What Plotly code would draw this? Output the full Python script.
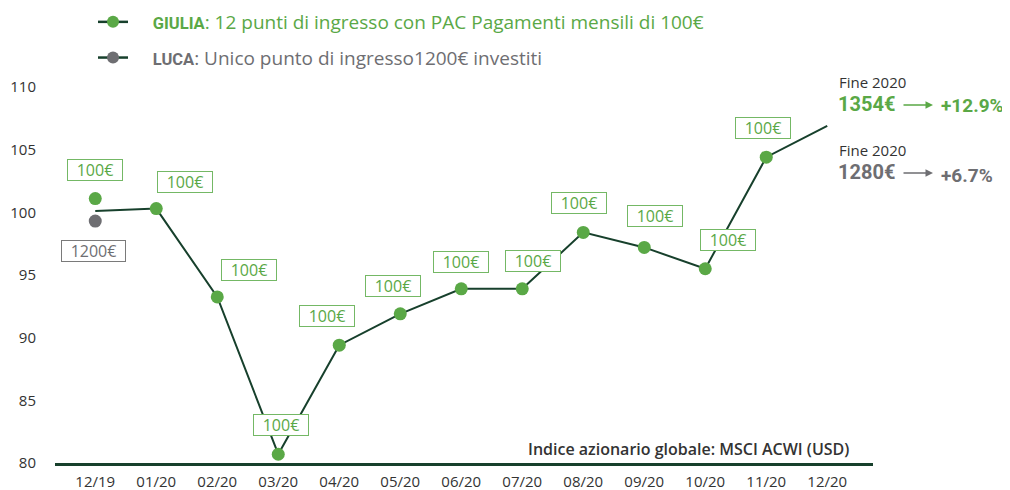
import plotly.graph_objects as go

# ---- data ----
months = ["12/19", "01/20", "02/20", "03/20", "04/20", "05/20", "06/20",
          "07/20", "08/20", "09/20", "10/20", "11/20", "12/20"]
index_values = [100.1, 100.3, 93.25, 80.7, 89.4, 91.9, 93.9, 93.9, 98.4, 97.2, 95.5, 104.4, 106.9]
giulia_months = months[:12]
giulia_marker_values = [101.1, 100.3, 93.25, 80.7, 89.4, 91.9, 93.9, 93.9, 98.4, 97.2, 95.5, 104.4]
giulia_labels = ["100€"] * 12
luca_months = ["12/19"]
luca_marker_values = [99.3]
luca_labels = ["1200€"]
y_ticks = [80, 85, 90, 95, 100, 105, 110]

# label offsets (pixels) - styling only
giulia_label_dx = [0, 29, 32, 3, -12, -7, 0, 11, -4, 11, 23, -3]
giulia_label_dy = [29, 27, 27, 29, 29, 28, 27, 28, 29, 31, 29, 29]
luca_label_dx = [-2]
luca_label_dy = [-30]

GREEN = "#5aa846"
DARK = "#17402c"
GRAY = "#6e6e72"
TXT = "#333333"
NARROW = "Roboto, sans-serif"
BASE = "Open Sans, sans-serif"

OFF = 8  # default page body margin
W, H = 1010 - OFF, 490 - OFF
L, R, T, B = 55 - OFF, 137, 87 - OFF, 27
PW, PH = W - L - R, H - T - B


def px(x):
    return (x - OFF - L) / PW


def py(y):
    return (H - B - (y - OFF)) / PH


fig = go.Figure()

# main index line
fig.add_trace(go.Scatter(x=months, y=index_values, mode="lines",
                         line=dict(color=DARK, width=2), showlegend=False,
                         hoverinfo="skip", cliponaxis=False))
# Giulia markers
fig.add_trace(go.Scatter(x=giulia_months, y=giulia_marker_values, mode="markers",
                         marker=dict(color=GREEN, size=13), showlegend=False,
                         cliponaxis=False))
# Luca marker
fig.add_trace(go.Scatter(x=luca_months, y=luca_marker_values, mode="markers",
                         marker=dict(color=GRAY, size=13), showlegend=False,
                         cliponaxis=False))

# legend entries
SP = "&nbsp;" * 4
fig.add_trace(go.Scatter(x=[None], y=[None], mode="lines+markers",
                         line=dict(color=DARK, width=2.5),
                         marker=dict(color=GREEN, size=12),
                         legendgroup="g",
                         name=f"{SP}<span style='font-family:Roboto;font-size:16.5px;color:{GREEN}'><b>GIULIA</b></span>"
                              f"<span style='color:{GREEN}'>: 12 punti di ingresso con PAC Pagamenti mensili di 100€</span>"))
fig.add_trace(go.Scatter(x=[None], y=[None], mode="lines+markers",
                         line=dict(color=DARK, width=2.5),
                         marker=dict(color=GRAY, size=12),
                         legendgroup="l",
                         name=f"{SP}<span style='font-family:Roboto;font-size:16.5px;color:{GRAY}'><b>LUCA</b></span>"
                              f"<span style='color:{GRAY}'>: Unico punto di ingresso1200€ investiti</span>"))

annotations = []
for m, v, t, dx, dy in zip(giulia_months, giulia_marker_values, giulia_labels,
                           giulia_label_dx, giulia_label_dy):
    annotations.append(dict(x=m, y=v, text=t, showarrow=False, xshift=dx, yshift=dy,
                            font=dict(family=BASE, size=16, color=GREEN),
                            bgcolor="white", bordercolor="#74b865", borderwidth=1,
                            borderpad=2, width=50, height=16))
for m, v, t, dx, dy in zip(luca_months, luca_marker_values, luca_labels,
                           luca_label_dx, luca_label_dy):
    annotations.append(dict(x=m, y=v, text=t, showarrow=False, xshift=dx, yshift=dy,
                            font=dict(family=BASE, size=16, color=GRAY),
                            bgcolor="white", bordercolor="#7a7a7a", borderwidth=1,
                            borderpad=2, width=59, height=16))

annotations.append(dict(xref="paper", yref="paper", x=px(851), y=py(449),
                        xanchor="right", yanchor="middle", showarrow=False,
                        text="Indice azionario globale: MSCI ACWI (USD)",
                        font=dict(family=BASE, size=16, weight=600, color=TXT)))

# right side summary
for y_fine, y_val, y_pct, col, val, pct in [(82, 104, 106, GREEN, "1354€", "+12.9%"),
                                             (150, 172, 175, GRAY, "1280€", "+6.7%")]:
    annotations.append(dict(xref="paper", yref="paper", x=px(837), y=py(y_fine),
                            xanchor="left", yanchor="middle", showarrow=False,
                            text="Fine 2020", font=dict(family=BASE, size=15, color=TXT)))
    annotations.append(dict(xref="paper", yref="paper", x=px(836), y=py(y_val),
                            xanchor="left", yanchor="middle", showarrow=False,
                            text=f"<b>{val}</b>", font=dict(family=NARROW, size=20, color=col)))
    annotations.append(dict(xref="paper", yref="paper", x=px(939), y=py(y_pct),
                            xanchor="left", yanchor="middle", showarrow=False,
                            text=f"<b>{pct}</b>", font=dict(family=NARROW, size=19, color=col)))
    annotations.append(dict(xref="paper", yref="paper", x=px(933), y=py(y_val + 1),
                            text="", showarrow=True, ax=-31, ay=0, arrowhead=2,
                            arrowsize=1, arrowwidth=1.5, arrowcolor=col))

fig.update_layout(
    width=W, height=H,
    margin=dict(l=L, r=R, t=T, b=B, autoexpand=False),
    paper_bgcolor="white", plot_bgcolor="white",
    font=dict(family=BASE, size=15, color=TXT),
    showlegend=True,
    legend=dict(xref="container", yref="paper", x=85 / W, y=1 + (T + 5) / PH,
                xanchor="left", yanchor="top", font=dict(family=BASE, size=19, color=GREEN),
                tracegroupgap=8, bgcolor="rgba(0,0,0,0)", itemclick=False),
    annotations=annotations,
    hovermode=False,
)
fig.update_xaxes(type="category", categoryorder="array", categoryarray=months,
                 range=[-0.66, 12.75], showgrid=False, zeroline=False,
                 showline=True, linecolor=DARK, linewidth=2.5,
                 ticks="outside", ticklen=3, tickcolor="rgba(0,0,0,0)",
                 tickfont=dict(family=BASE, size=15, color=TXT))
fig.update_yaxes(range=[80, 110], tickvals=y_ticks, showgrid=False, zeroline=False,
                 showline=False, ticks="outside", ticklen=15, tickcolor="rgba(0,0,0,0)",
                 tickfont=dict(family=BASE, size=15, color=TXT))

fig.write_html("out.html")
